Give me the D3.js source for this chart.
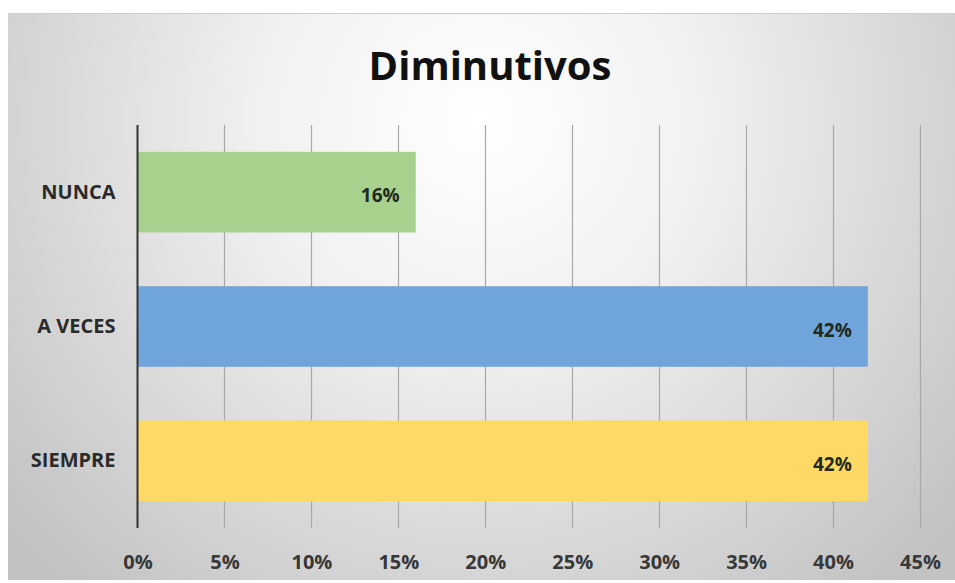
<!DOCTYPE html>
<html><head><meta charset="utf-8">
<script src="https://cdn.jsdelivr.net/npm/d3@7"></script>
<style>html,body{margin:0;padding:0;background:#fff;}svg{display:block;}</style>
</head><body>
<svg id="c" width="955" height="583"></svg>
<script>
const categories = ["NUNCA", "A VECES", "SIEMPRE"];
const values = [16, 42, 42];
const colors = ["#A9D18E", "#6FA5DA", "#FFD966"];
const tickValues = [0, 5, 10, 15, 20, 25, 30, 35, 40, 45];
const title = "Diminutivos";

const svg = d3.select("#c");
const defs = svg.append("defs");
const rg = defs.append("radialGradient").attr("id","bg")
  .attr("gradientUnits","userSpaceOnUse")
  .attr("cx",480).attr("cy",120).attr("r",620);
rg.append("stop").attr("offset","0%").attr("stop-color","#ffffff");
rg.append("stop").attr("offset","35%").attr("stop-color","#f1f1f1");
rg.append("stop").attr("offset","100%").attr("stop-color","#c2c2c2");

svg.append("rect").attr("x",8).attr("y",13).attr("width",947).attr("height",567).attr("fill","url(#bg)");
svg.append("line").attr("x1",8).attr("x2",955).attr("y1",13.5).attr("y2",13.5).attr("stroke","#cfcfcf");

const x = d3.scaleLinear().domain([0,45]).range([137.5, 920]);
const y = d3.scaleBand().domain(categories).range([125, 528]).paddingInner(0.4).paddingOuter(0.2);

// gridlines
svg.append("g").selectAll("line").data(tickValues.slice(1)).join("line")
  .attr("x1",d=>Math.round(x(d))+0.5).attr("x2",d=>Math.round(x(d))+0.5)
  .attr("y1",125).attr("y2",528)
  .attr("stroke","#a8a8a8").attr("stroke-width",1.2);

// bars
svg.append("g").selectAll("rect").data(categories).join("rect")
  .attr("x",x(0)).attr("y",d=>y(d))
  .attr("width",(d,i)=>x(values[i])-x(0))
  .attr("height",y.bandwidth())
  .attr("fill",(d,i)=>colors[i]);

// data labels
svg.append("g").selectAll("text").data(categories).join("text")
  .attr("x",(d,i)=>x(values[i])-16)
  .attr("y",d=>y(d)+y.bandwidth()/2+10)
  .attr("text-anchor","end")
  .attr("font-family","'Open Sans', sans-serif").attr("font-weight","bold")
  .attr("font-size",19).attr("fill","#1e2a22")
  .text((d,i)=>values[i]+"%");

// y axis
const yAxis = d3.axisLeft(y).tickSize(0).tickPadding(22);
const gy = svg.append("g").attr("transform",`translate(${x(0)},0)`).call(yAxis);
gy.select(".domain").remove();
gy.selectAll("text").attr("font-family","'Open Sans', sans-serif").attr("font-weight","bold")
  .attr("font-size",20).attr("fill","#2a2a2a");
svg.append("line").attr("x1",x(0)).attr("x2",x(0)).attr("y1",125).attr("y2",528)
  .attr("stroke","#333").attr("stroke-width",2);

// x axis
const xAxis = d3.axisBottom(x).tickValues(tickValues).tickFormat(d=>d+"%").tickSize(0).tickPadding(0);
const gx = svg.append("g").attr("transform","translate(0,569)").call(xAxis);
gx.select(".domain").remove();
gx.selectAll("text").attr("dy",0).attr("font-family","'Open Sans', sans-serif").attr("font-weight","bold")
  .attr("font-size",20).attr("fill","#383838");

// title
svg.append("text").attr("x",490).attr("y",80).attr("text-anchor","middle")
  .attr("font-family","'Open Sans', sans-serif").attr("font-weight","bold")
  .attr("font-size",40).attr("fill","#111").text(title);
</script>
</body></html>
